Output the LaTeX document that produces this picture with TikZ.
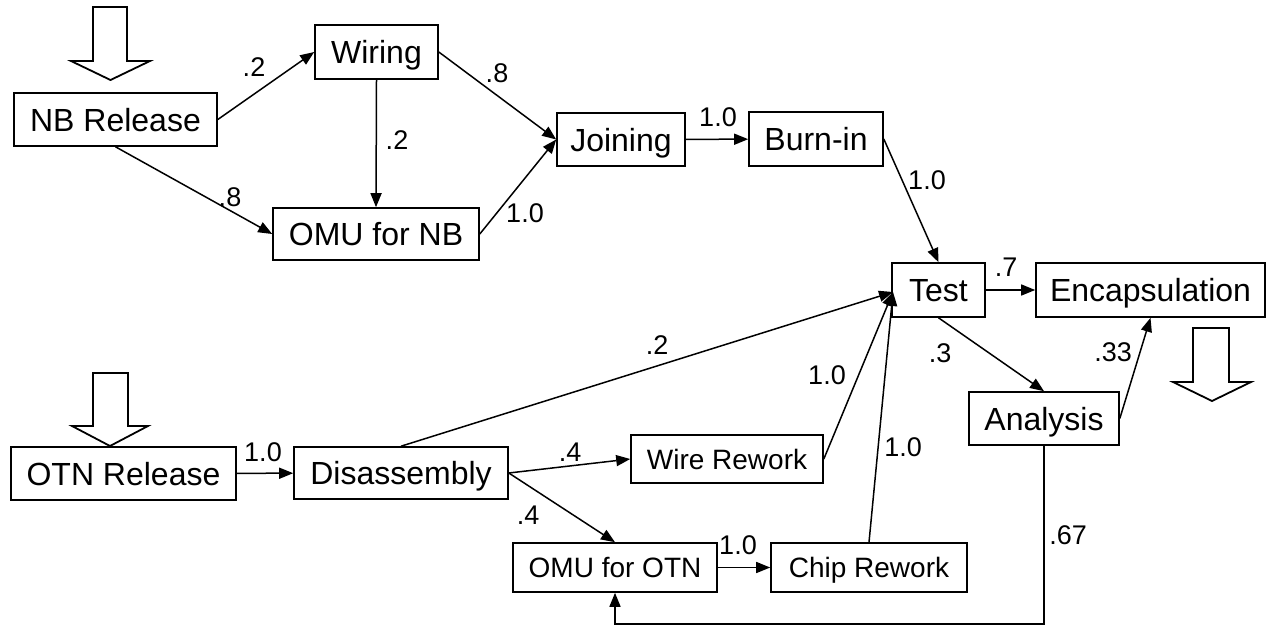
\documentclass[tikz,border=0pt]{standalone}
\usepackage{fontspec}
\setmainfont{Liberation Sans}
\usetikzlibrary{arrows.meta,calc}
\begin{document}
\begin{tikzpicture}[x=0.5pt,y=-0.5pt,
  box/.style={draw, line width=0.8pt, inner sep=0pt, text height=11.5pt, text depth=0pt,
              font=\fontsize{16}{19}\selectfont},
  sbox/.style={box, text height=10pt, font=\fontsize{14}{17}\selectfont},
  lbl/.style={inner sep=0pt, font=\fontsize{13.5}{16}\selectfont},
  flow/.style={line width=0.75pt, -{Triangle[length=7pt,width=5.5pt]}},
  bigarrow/.style={draw, line width=0.9pt, fill=white, line join=miter}]
\useasboundingbox (0,0) rectangle (1267,626);

% hollow input/output arrows
\draw[bigarrow] (93,7) -- (127,7) -- (127,61) -- (150,61) -- (110.5,80) -- (71,61) -- (93,61) -- cycle;
\draw[bigarrow] (93,373) -- (128,373) -- (128,426) -- (148,426) -- (110,446) -- (72,426) -- (93,426) -- cycle;
\draw[bigarrow] (1193,328) -- (1229,328) -- (1229,382) -- (1251,382) -- (1212,401) -- (1173,382) -- (1193,382) -- cycle;

% process boxes
\node[box, minimum width=101.5pt, minimum height=26.5pt] (nbr)      at (115.5,119.5) {NB Release};
\node[box, minimum width=61.5pt,  minimum height=27pt]   (wiring)   at (376.5,52)    {Wiring};
\node[box, minimum width=103pt,   minimum height=26pt]   (omunb)    at (376,234)     {OMU for NB};
\node[box, minimum width=64pt,    minimum height=26.5pt] (joining)  at (621,139.5)   {Joining};
\node[box, minimum width=67pt,    minimum height=27pt]   (burnin)   at (816,139)     {Burn-in};
\node[box, minimum width=46.5pt,  minimum height=27pt]   (test)     at (938.5,290)   {Test};
\node[box, minimum width=114.5pt, minimum height=27pt]   (encap)    at (1150.5,290)  {Encapsulation};
\node[box, minimum width=75pt,    minimum height=26.5pt] (analysis) at (1044,418.5)  {Analysis};
\node[box, minimum width=112.5pt, minimum height=26.5pt] (otnr)     at (123.5,473.5) {OTN Release};
\node[box, minimum width=107pt,   minimum height=26pt]   (disasm)   at (401,473)     {Disassembly};
\node[sbox, minimum width=96pt,   minimum height=24pt]   (wire)     at (727,459)     {Wire Rework};
\node[sbox, minimum width=102pt,  minimum height=24.5pt] (omuotn)   at (615,567.5)   {OMU for OTN};
\node[sbox, minimum width=98pt,   minimum height=24.5pt] (chip)     at (869,567.5)   {Chip Rework};

% common entry point on the left side of Test
\coordinate (tin) at (893,292);

% connectors
\draw[flow] (nbr.east) -- (wiring.west);
\draw[flow] (nbr.south) -- (omunb.west);
\draw[flow] (wiring.south) -- (omunb.north);
\draw[flow] (wiring.east) -- (joining.west);
\draw[flow] (omunb.east) -- (joining.west);
\draw[flow] (joining) -- (burnin);
\draw[flow] (burnin.east) -- (test.north);
\draw[flow] (test) -- (encap);
\draw[flow] (test.south) -- (analysis.north);
\draw[flow] (analysis.east) -- (encap.south);
\draw[flow] (otnr) -- (disasm);
\draw[flow] (disasm.north) -- (tin);
\draw[flow] (disasm.east) -- (wire.west);
\draw[flow] (disasm.east) -- (omuotn.north);
\draw[flow] (wire.east) -- (tin);
\draw[flow] (chip.north) -- (tin);
\draw[flow] (omuotn) -- (chip);
\draw[flow] (analysis.south) -- ++(0,178) -| (omuotn.south);

% branch probabilities
\node[lbl] (p1)  at (254,67)   {.2};
\node[lbl] (p2)  at (230,197)  {.8};
\node[lbl] (p3)  at (397,140)  {.2};
\node[lbl] (p4)  at (497,73)   {.8};
\node[lbl] (p5)  at (525,213)  {1.0};
\node[lbl] (p6)  at (718,117)  {1.0};
\node[lbl] (p7)  at (927,180)  {1.0};
\node[lbl] (p8)  at (1006,267) {.7};
\node[lbl] (p9)  at (940,353)  {.3};
\node[lbl] (p10) at (1113,352) {.33};
\node[lbl] (p11) at (657,345)  {.2};
\node[lbl] (p12) at (827,375)  {1.0};
\node[lbl] (p13) at (903,447)  {1.0};
\node[lbl] (p14) at (263,452)  {1.0};
\node[lbl] (p15) at (570,452)  {.4};
\node[lbl] (p16) at (528,515)  {.4};
\node[lbl] (p17) at (738,545)  {1.0};
\node[lbl] (p18) at (1068,535) {.67};
\end{tikzpicture}
\end{document}
